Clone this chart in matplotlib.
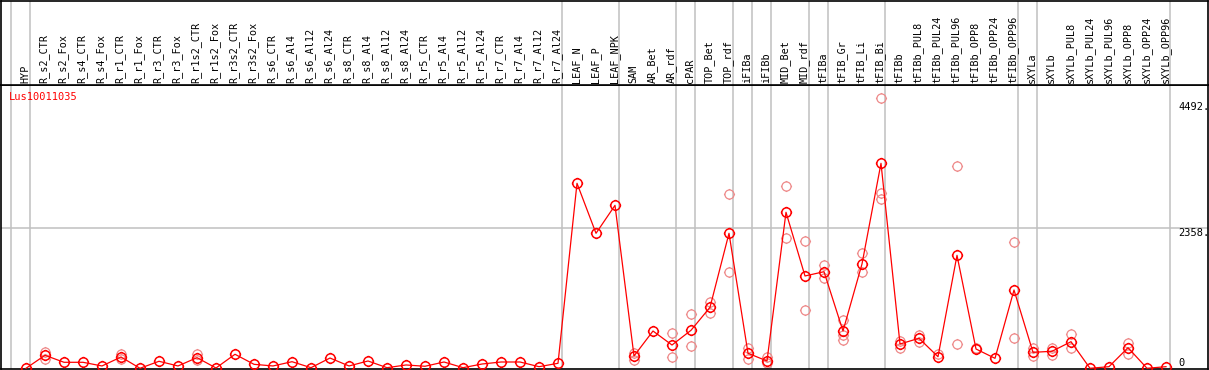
import matplotlib
matplotlib.use("Agg")
import matplotlib.pyplot as plt
from matplotlib.path import Path

samples = [
    "HYP", "R_s2_CTR", "R_s2_Fox", "R_s4_CTR", "R_s4_Fox", "R_r1_CTR", "R_r1_Fox",
    "R_r3_CTR", "R_r3_Fox", "R_r1s2_CTR", "R_r1s2_Fox", "R_r3s2_CTR", "R_r3s2_Fox",
    "R_s6_CTR", "R_s6_Al4", "R_s6_Al12", "R_s6_Al24", "R_s8_CTR", "R_s8_Al4",
    "R_s8_Al12", "R_s8_Al24", "R_r5_CTR", "R_r5_Al4", "R_r5_Al12", "R_r5_Al24",
    "R_r7_CTR", "R_r7_Al4", "R_r7_Al12", "R_r7_Al24", "LEAF_N", "LEAF_P", "LEAF_NPK",
    "SAM", "AR_Bet", "AR_rdf", "cPAR", "TOP_Bet", "TOP_rdf", "iFIBa", "iFIBb",
    "MID_Bet", "MID_rdf", "tFIBa", "tFIB_Gr", "tFIB_Li", "tFIB_Bi", "tFIBb",
    "tFIBb_PUL8", "tFIBb_PUL24", "tFIBb_PUL96", "tFIBb_OPP8", "tFIBb_OPP24",
    "tFIBb_OPP96", "sXYLa", "sXYLb", "sXYLb_PUL8", "sXYLb_PUL24", "sXYLb_PUL96",
    "sXYLb_OPP8", "sXYLb_OPP24", "sXYLb_OPP96",
]

# mean expression per sample
means = [
    0, 219, 101, 101, 39, 190, 0, 118, 39, 179, 5, 236, 67, 39, 111,
    10, 173, 39, 123, 10, 56, 34, 106, 10, 72, 106, 106, 27, 84,
    3116, 2274, 2745, 207, 628, 392, 640, 1027, 2274, 253, 123,
    2628, 1555, 1627, 628, 1757, 3453, 409, 505, 195, 1903, 325, 168,
    1319, 269, 286, 448, 0, 27, 347, 0, 27,
]

# visible replicate values (index -> values)
replicates = {
    1: [280, 157], 5: [241, 152], 9: [236, 140], 32: [253, 140],
    34: [590, 185], 35: [915, 371], 36: [1122, 937], 37: [2931, 1617],
    38: [337, 157], 39: [185, 84], 40: [3071, 2190], 41: [2144, 977],
    42: [1740, 1526], 43: [814, 561, 480], 44: [1937, 1627],
    45: [4550, 2948, 2847], 46: [460, 347], 47: [561, 448], 48: [241],
    49: [3402, 404], 50: [347], 52: [2122, 510], 53: [337, 207],
    54: [337, 219], 55: [578, 337], 58: [426, 236],
}

# last sample index of each group (separator drawn right after it)
group_ends = [-1, 0, 28, 31, 34, 35, 37, 38, 39, 41, 42, 45, 52, 53, 60]

gene = "Lus10011035"
ytick_vals = [4492, 2358, 0]
grid_vals = [2358]

# circle marker with four short ticks
circ = Path.unit_circle()
ticks = []
for a, b in [((0, 1), (0, 1.22)), ((0, -1), (0, -1.22)), ((1, 0), (1.22, 0)), ((-1, 0), (-1.22, 0))]:
    ticks.append(Path([a, b], [Path.MOVETO, Path.LINETO]))
mk = Path.make_compound_path(circ, *ticks)

W, H = 1209, 370
fig = plt.figure(figsize=(W / 100, H / 100), dpi=100)
top_px, bot_px = 85.3, 369
ax = fig.add_axes([1 / W, (H - bot_px) / H, 1207 / W, (bot_px - top_px) / H])
hdr = fig.add_axes([1 / W, (H - top_px) / H, 1207 / W, top_px / H - 0.5 / H])

xs = list(range(len(samples)))
x0 = (1 - 26) / 19
x1 = (1208 - 26) / 19
for a in (ax, hdr):
    a.set_xlim(x0, x1)
    a.set_xticks([])
    a.set_yticks([])
    for s in a.spines.values():
        s.set_color("black")
        s.set_linewidth(1.2)
    for g in group_ends:
        a.axvline(g + 0.2, color="#c0c0c0", lw=1.1, zorder=0)

hdr.set_ylim(0, 1)
for i, name in enumerate(samples):
    hdr.text(i - 0.05, 0.03, name, rotation=90, ha="center", va="bottom",
             family="DejaVu Sans Mono", fontsize=7.3)

ax.set_ylim(-12, 4767)
for g in grid_vals:
    ax.axhline(g, color="#c0c0c0", lw=1.1, zorder=0)

for i, vals in replicates.items():
    ax.plot([i] * len(vals), vals, ls="none", marker=mk, markersize=8.0,
            mfc="none", mec="#ee8a8a", mew=0.9, zorder=2)

ax.plot(xs, means, color="red", lw=0.9, zorder=3)
ax.plot(xs, means, ls="none", marker=mk, markersize=8.2, mfc="none",
        mec="red", mew=1.1, zorder=4)

lx = (1178 - 26) / 19
for v in ytick_vals:
    ax.text(lx, v, f"{v}." if v else "0", ha="left",
            va="bottom" if v == 0 else "top",
            family="DejaVu Sans Mono", fontsize=7.5)

ax.text(8.3 / 1207, 0.958, gene, transform=ax.transAxes, color="red",
        ha="left", va="center", family="DejaVu Sans Mono", fontsize=7.5)

fig.savefig("out.png", dpi=100)
